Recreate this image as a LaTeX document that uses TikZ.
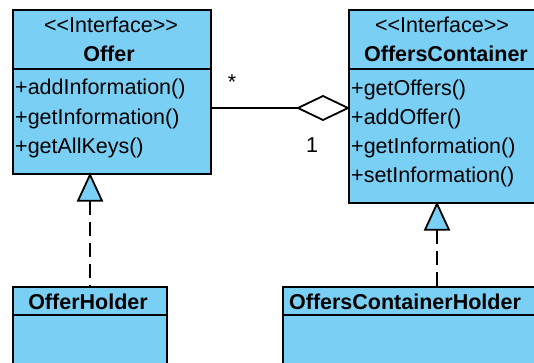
\documentclass[tikz,border=0pt]{standalone}
\usepackage{fontspec}
\newfontfamily\umlfont{Liberation Sans}
\definecolor{umlblue}{HTML}{7ACFF5}
\tikzset{
  cls/.style={draw=black, fill=umlblue, line width=1.8pt, rectangle, inner sep=0pt},
  txt/.style={inner sep=0pt, font=\umlfont\fontsize{21.5}{25}\selectfont, text=black},
  btxt/.style={txt, font=\umlfont\bfseries\fontsize{21.5}{25}\selectfont},
  meth/.style={txt, anchor=west},
  conn/.style={line width=1.8pt, draw=black},
  dashconn/.style={conn, dash pattern=on 14pt off 7pt},
  gentri/.style={conn, fill=umlblue, line join=miter}
}
\begin{document}
\begin{tikzpicture}[x=1pt,y=-1pt]
\clip (0,0) rectangle (534,363);
\fill[white] (0,0) rectangle (534,363);
% Offer
\node[cls, minimum width=198pt, minimum height=164pt, anchor=north west] (offer) at (12,9) {};
\draw[conn] (12,69) -- (210,69);
\node[txt] (offerst) at (111,25) {<<Interface>>};
\node[btxt] (offername) at (109,54) {Offer};
\node[meth] (om1) at (15,89) {+addInformation()};
\node[meth] (om2) at (15,118.5) {+getInformation()};
\node[meth] (om3) at (15,148) {+getAllKeys()};
% OffersContainer
\node[cls, minimum width=190pt, minimum height=193pt, anchor=north west] (oc) at (348,9) {};
\draw[conn] (348,69) -- (538,69);
\node[txt] (ocst) at (442,25) {<<Interface>>};
\node[btxt] (ocname) at (446,54) {OffersContainer};
\node[meth] (ocm1) at (351,90) {+getOffers()};
\node[meth] (ocm2) at (351,119) {+addOffer()};
\node[meth] (ocm3) at (351,148) {+getInformation()};
\node[meth] (ocm4) at (351,177) {+setInformation()};
% OfferHolder
\node[cls, minimum width=154pt, minimum height=100pt, anchor=north west] (oh) at (12,286) {};
\draw[conn] (12,315) -- (166,315);
\node[btxt] (ohname) at (88,302) {OfferHolder};
% OffersContainerHolder
\node[cls, minimum width=260pt, minimum height=100pt, anchor=north west] (och) at (282,286) {};
\draw[conn] (282,315) -- (542,315);
\node[btxt] (ochname) at (405,302) {OffersContainerHolder};
% aggregation
\coordinate (agg) at (oc.west |- 0,108);
\coordinate (aggl) at ([xshift=-50pt]agg);
\draw[conn, line join=miter] (agg) -- ++(-25,-12) -- (aggl) -- ++(25,12) -- cycle;
\draw[conn] (aggl) -- (offer.east |- aggl);
\node[txt] (mstar) at (232,82) {*};
\node[txt] (mone) at (312,145) {1};
% generalization Offer
\coordinate (t1) at (offer.south -| 90,0);
\coordinate (b1) at ([yshift=-26pt]t1);
\draw[dashconn] (b1) -- (oh.north -| b1);
\draw[gentri] (t1) -- ([xshift=-12pt]b1) -- ([xshift=12pt]b1) -- cycle;
% generalization OffersContainer
\coordinate (t2) at (oc.south -| 437,0);
\coordinate (b2) at ([yshift=-26pt]t2);
\draw[dashconn] (b2) -- (och.north -| b2);
\draw[gentri] (t2) -- ([xshift=-12pt]b2) -- ([xshift=12pt]b2) -- cycle;
\end{tikzpicture}
\end{document}
